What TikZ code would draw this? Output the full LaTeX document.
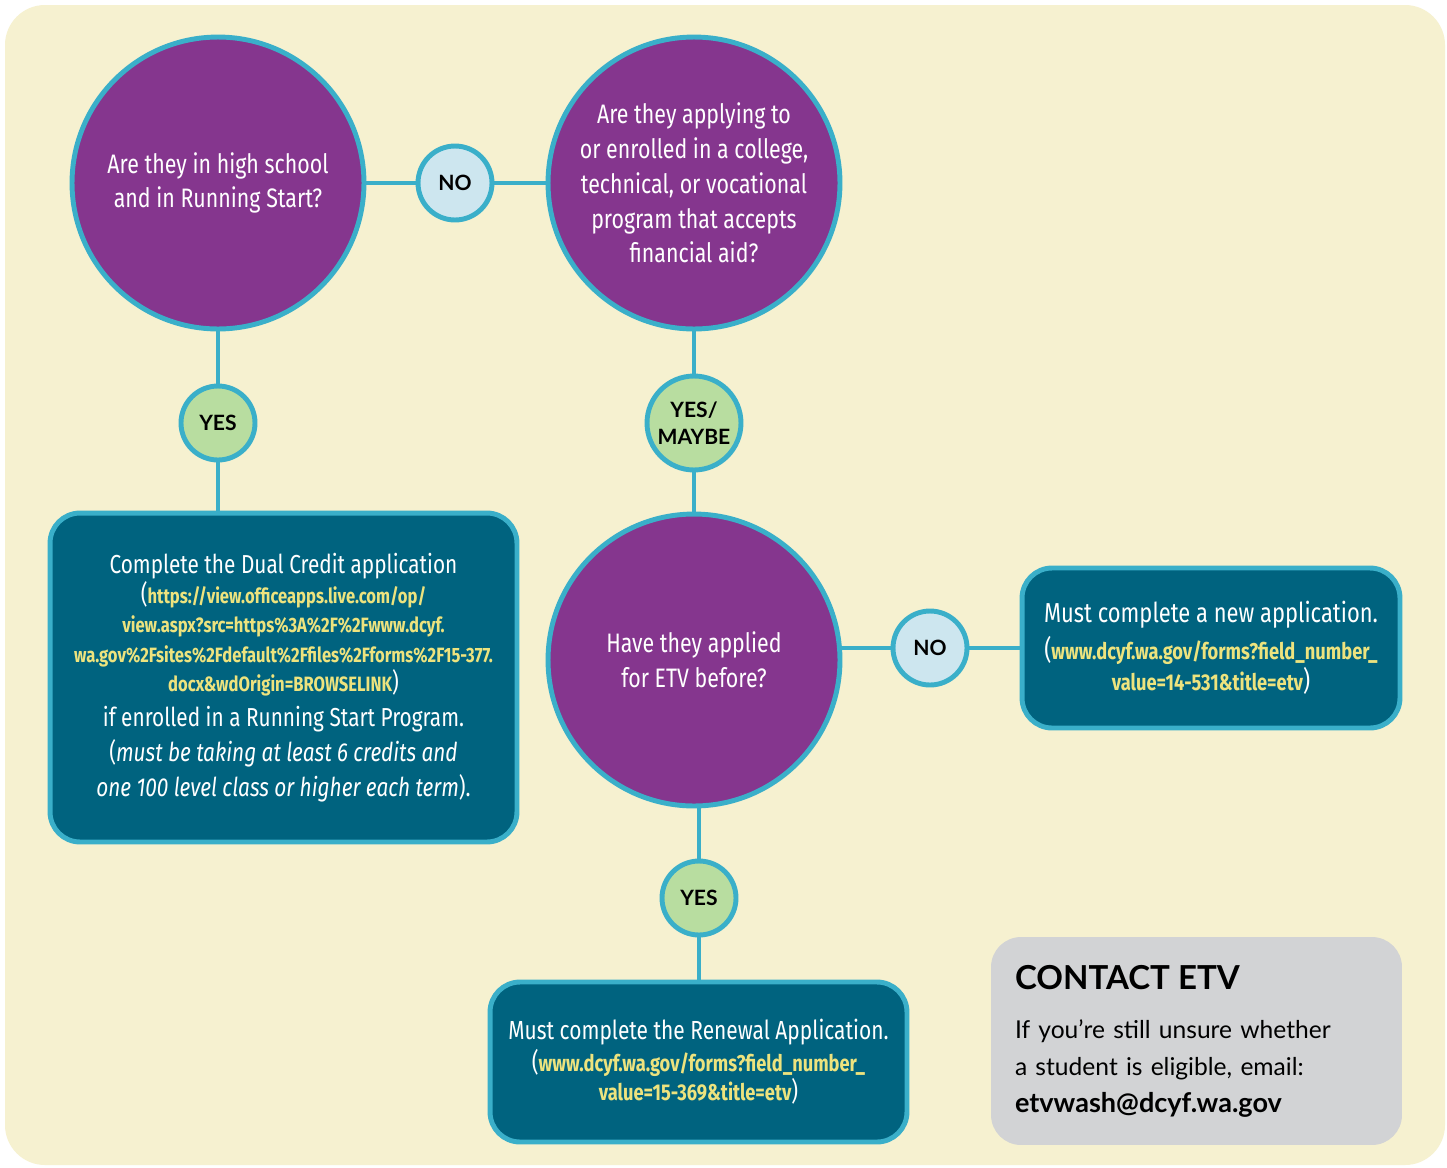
\documentclass[tikz,border=0pt]{standalone}
\usepackage{fontspec}
\setmainfont{Fira Sans}[FakeStretch=0.8]
\newfontfamily\labelfont{Lato}
\usetikzlibrary{positioning}

\definecolor{cream}{HTML}{F6F1D0}
\definecolor{etvpurple}{HTML}{85368E}
\definecolor{etvcyan}{HTML}{3AAFC9}
\definecolor{etvteal}{HTML}{00637F}
\definecolor{nofill}{HTML}{CDE6EF}
\definecolor{yesfill}{HTML}{B8DDA0}
\definecolor{etvyellow}{HTML}{EDE37E}
\definecolor{contactgrey}{HTML}{D2D3D5}

\tikzset{
    question/.style={circle, fill=etvpurple, draw=etvcyan, line width=2.8pt,
        minimum size=5.84cm, inner sep=0pt, text=white, align=center,
        font=\fontsize{15.2}{19.8}\selectfont},
    answer/.style={circle, draw=etvcyan, line width=2.8pt, minimum size=1.48cm,
        inner sep=0pt, align=center, font=\labelfont\bfseries\fontsize{12}{14}\selectfont},
    outcome/.style={rectangle, rounded corners=0.6cm, fill=etvteal, draw=etvcyan,
        line width=2.8pt, text=white, align=center, inner sep=0pt,
        font=\fontsize{14.8}{19.8}\selectfont},
    link/.style={draw=etvcyan, line width=2.8pt}
}
\newcommand{\etvlink}[2][11.8]{{\color{etvyellow}\bfseries\fontsize{#1}{16}\selectfont #2}}

\begin{document}
\begin{tikzpicture}[x=0.02cm, y=-0.02cm]
    \useasboundingbox (0,0) rectangle (1447,1167);
    \fill[white] (0,0) rectangle (1447,1167);
    \fill[cream, rounded corners=0.8cm] (5,5) rectangle (1445,1165);

    % questions
    \node[question] (school) at (218,183) {Are they in high school\\and in Running Start?};
    \node[question] (college) at (694,183) {Are they applying to\\or enrolled in a college,\\technical, or vocational\\program that accepts\\financial aid?};
    \node[question] (before) at (694,660) {Have they applied\\for ETV before?};

    % answers
    \node[answer, fill=nofill] (noschool) at (455,183) {NO};
    \node[answer, fill=yesfill] (yesschool) at (218,423) {YES};
    \node[answer, fill=yesfill, minimum size=1.88cm] (yescollege) at (694,423) {YES/\\[1pt]MAYBE};
    \node[answer, fill=nofill] (nobefore) at (930,648) {NO};
    \node[answer, fill=yesfill] (yesbefore) at (699,898) {YES};

    % outcomes
    \node[outcome, minimum width=9.34cm, minimum height=6.58cm] (dual) at (283.5,677.5)
        {Complete the Dual Credit application\\[-3pt]
         (\etvlink{https://view.officeapps.live.com/op/}\\[-3pt]
         \etvlink{view.aspx?src=https\%3A\%2F\%2Fwww.dcyf.}\\[-3pt]
         \etvlink{wa.gov\%2Fsites\%2Fdefault\%2Ffiles\%2Fforms\%2F15-377.}\\[-3pt]
         \etvlink{docx\&wdOrigin=BROWSELINK})\\
         if enrolled in a Running Start Program.\\
         (\textit{must be taking at least 6 credits and}\\
         \textit{one 100 level class or higher each term}).};
    \node[outcome, minimum width=7.56cm, minimum height=3.2cm,
        font=\fontsize{15.6}{19.8}\selectfont] (newapp) at (1211,648)
        {Must complete a new application.\\[1pt]
         (\etvlink[13]{www.dcyf.wa.gov/forms?field\_number\_}\\[-2pt]
         \etvlink[13]{value=14-531\&title=etv})};
    \node[outcome, minimum width=8.34cm, minimum height=3.2cm,
        font=\fontsize{14.9}{19.8}\selectfont] (renewal) at (698.5,1062)
        {Must complete the Renewal Application.\\[-2pt]
         (\etvlink[13]{www.dcyf.wa.gov/forms?field\_number\_}\\[-3pt]
         \etvlink[13]{value=15-369\&title=etv})};

    % contact
    \node[rectangle, rounded corners=0.6cm, fill=contactgrey, minimum width=8.22cm,
        minimum height=4.16cm, inner xsep=0.48cm, text width=7.26cm, align=left,
        font=\labelfont\fontsize{14}{21}\selectfont] (contact) at (1196.5,1041)
        {{\bfseries\fontsize{18.8}{24}\selectfont CONTACT ETV}\\[7pt]
         If you’re still unsure whether\\
         a student is eligible, email:\\
         {\bfseries\fontsize{15.4}{21}\selectfont etvwash@dcyf.wa.gov}};

    % connectors
    \draw[link] (school) -- (noschool) -- (college);
    \draw[link] (school) -- (yesschool);
    \draw[link] (yesschool) -- (yesschool |- dual.north);
    \draw[link] (college) -- (yescollege) -- (before);
    \draw[link] (nobefore) -- (nobefore -| before.east);
    \draw[link] (nobefore) -- (newapp);
    \draw[link] (yesbefore) -- (yesbefore |- before.south);
    \draw[link] (yesbefore) -- (yesbefore |- renewal.north);
\end{tikzpicture}
\end{document}
